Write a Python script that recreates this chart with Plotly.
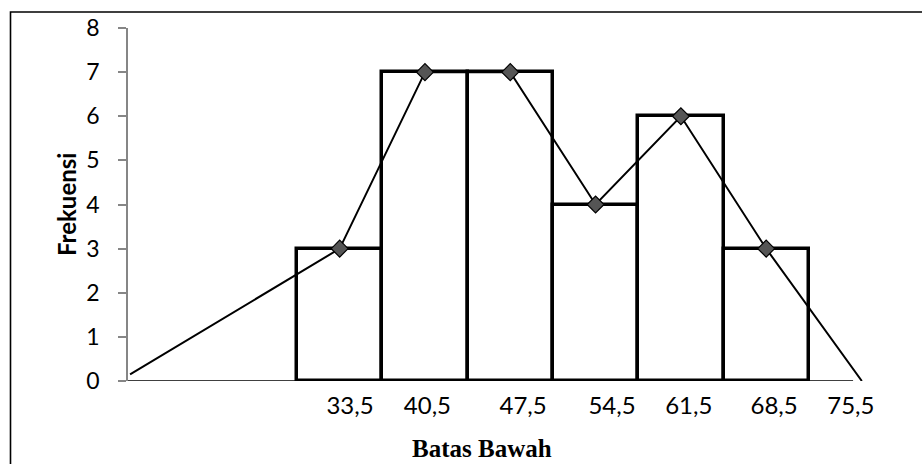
import plotly.graph_objects as go

# ---- data ----
lower_bounds = [33.5, 40.5, 47.5, 54.5, 61.5, 68.5]
frequencies = [3, 7, 7, 4, 6, 3]
class_width = 7
tick_labels = ["33,5", "40,5", "47,5", "54,5", "61,5", "68,5", "75,5"]
# where the reference draws each label along the axis (data units)
tick_positions = [37.85, 44.2, 52.05, 59.35, 65.65, 72.65, 78.95]
# polygon extension points (ends of the frequency polygon)
poly_start = (19.8, 0.15)
poly_end = (79.85, 0.0)
baseline_x = [19.63, 79.13]
baseline_y = [0, 0]

midpoints = [lb + class_width / 2 for lb in lower_bounds]
poly_x = [poly_start[0]] + midpoints + [poly_end[0]]
poly_y = [poly_start[1]] + frequencies + [poly_end[1]]

# ---- layout geometry ----
W, H = 922, 464
ml, mr, mt, mb = 128, 52, 27.5, 82.5
pw, ph = W - ml - mr, H - mt - mb
x_range = [19.63, 80.52]

def px_to_paper_x(px):
    return (px - ml) / pw

def py_to_paper_y(py):
    return (H - mb - py) / ph

fig = go.Figure()

fig.add_trace(go.Bar(
    x=midpoints, y=frequencies, width=[class_width] * len(midpoints),
    marker=dict(color="white", line=dict(color="black", width=3.5)),
    showlegend=False, hoverinfo="skip",
))

fig.add_trace(go.Scatter(
    x=baseline_x, y=baseline_y, mode="lines",
    line=dict(color="black", width=1.6), showlegend=False, hoverinfo="skip",
))

fig.add_trace(go.Scatter(
    x=poly_x, y=poly_y, mode="lines",
    line=dict(color="black", width=2), showlegend=False, hoverinfo="skip",
))

fig.add_trace(go.Scatter(
    x=midpoints, y=frequencies, mode="markers",
    marker=dict(symbol="diamond", size=13, color="#555555",
                line=dict(color="black", width=1.2)),
    showlegend=False, cliponaxis=False,
))

fig.update_layout(
    width=W, height=H,
    margin=dict(l=ml, r=mr, t=mt, b=mb),
    paper_bgcolor="white", plot_bgcolor="white",
    font=dict(family="Lato, Carlito, sans-serif", color="black"),
    bargap=0,
    xaxis=dict(
        range=x_range, showgrid=False, zeroline=False, showline=False,
        tickmode="array", tickvals=tick_positions, ticktext=tick_labels,
        ticks="", tickfont=dict(size=24, family="Lato, sans-serif", color="black"),
        ticklabelstandoff=8,
    ),
    yaxis=dict(
        range=[0, 8], dtick=1, showgrid=False, zeroline=False,
        showline=True, linecolor="#868686", linewidth=1.5,
        ticks="outside", ticklen=8, tickcolor="#868686", tickwidth=1.5,
        tickfont=dict(size=23, family="Lato, sans-serif", color="black"),
        ticklabelstandoff=14,
    ),
    shapes=[dict(
        type="rect", xref="paper", yref="paper",
        x0=px_to_paper_x(10.5), x1=px_to_paper_x(930),
        y0=py_to_paper_y(475), y1=py_to_paper_y(11.5),
        line=dict(color="black", width=1.6), fillcolor="rgba(0,0,0,0)",
        layer="above",
    )],
    annotations=[
        dict(text="<b>Batas Bawah</b>", xref="paper", yref="paper",
             x=px_to_paper_x(482), y=py_to_paper_y(449),
             xanchor="center", yanchor="middle", showarrow=False,
             font=dict(family="Liberation Serif, Times New Roman, serif", size=25, color="black")),
        dict(text="<b>Frekuensi</b>", xref="paper", yref="paper",
             x=px_to_paper_x(67), y=py_to_paper_y(205), textangle=-90,
             xanchor="center", yanchor="middle", showarrow=False,
             font=dict(family="Lato, sans-serif", size=24, color="black")),
    ],
)

fig.write_html("out.html")
